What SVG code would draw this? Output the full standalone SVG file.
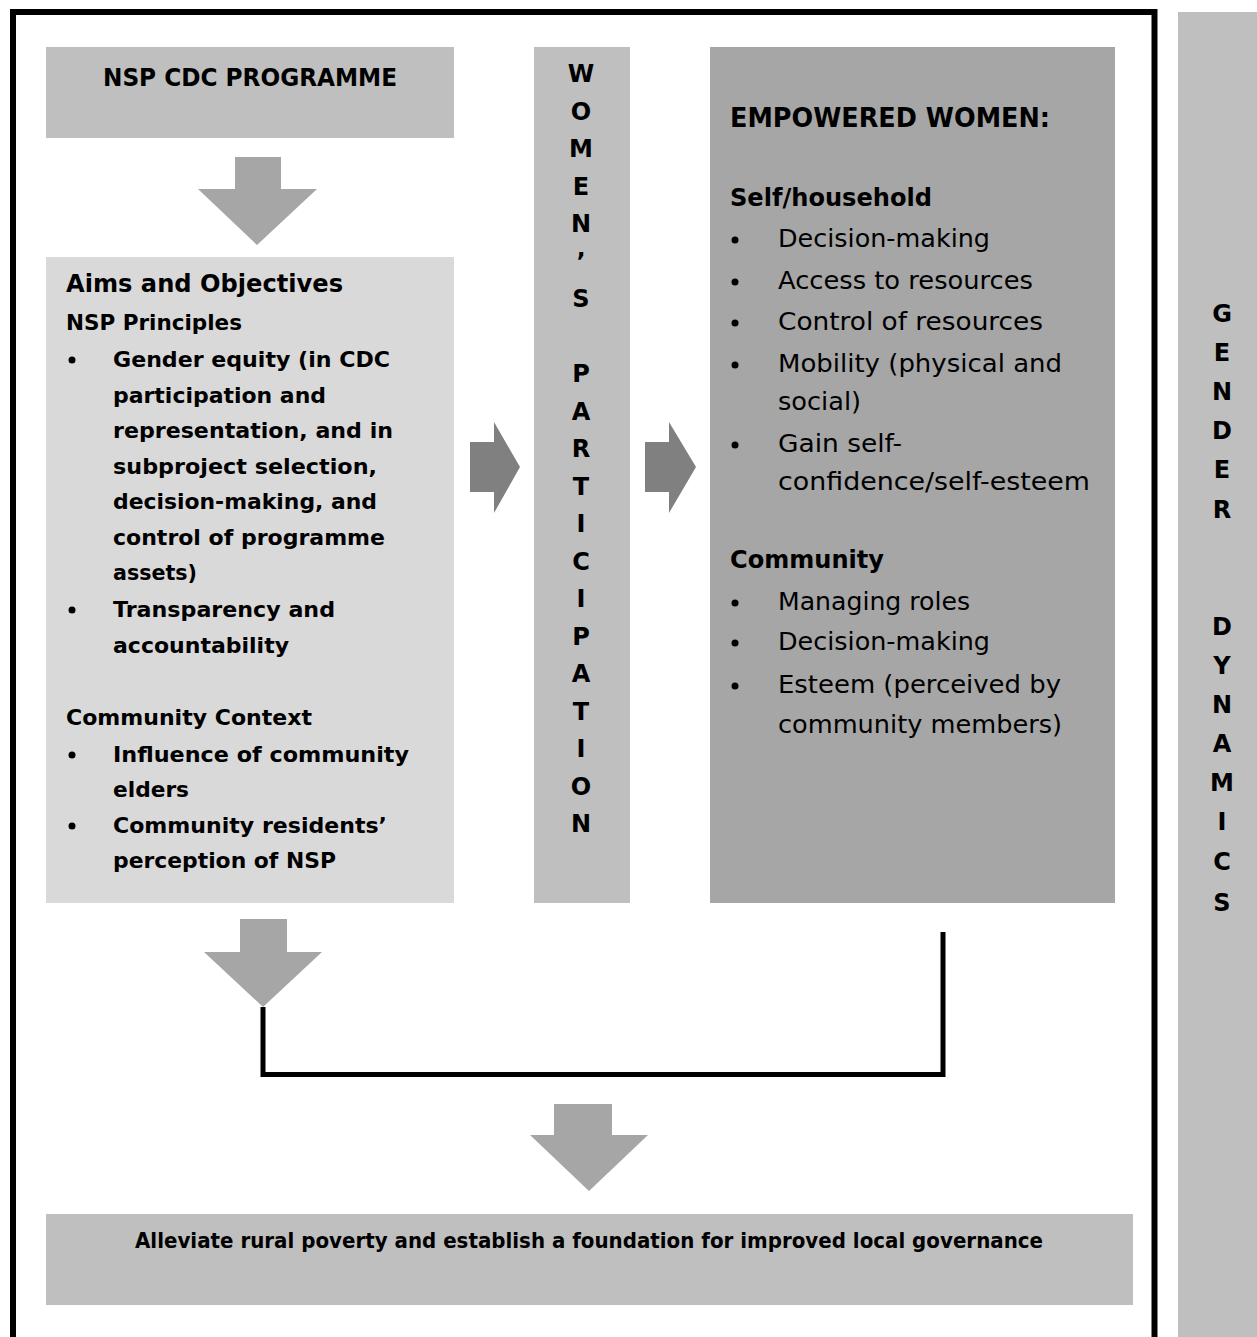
<svg xmlns="http://www.w3.org/2000/svg" width="1257" height="1337" viewBox="0 0 1257 1337">
<style>
.b{font-family:"DejaVu Sans","Liberation Sans",sans-serif;font-weight:bold;fill:#000}
.r{font-family:"DejaVu Sans","Liberation Sans",sans-serif;font-weight:normal;fill:#000}
.lb{font-size:22px}
.rr{font-size:25px}
.v{font-size:24px;text-anchor:middle}
.darr{fill:#a6a6a6}
.rarr{fill:#808080}
</style>
<rect x="0" y="0" width="1257" height="1337" fill="#fff"/>
<rect id="frame" x="13" y="12" width="1141.5" height="1340" fill="none" stroke="#000" stroke-width="6"/>

<g id="gender-dynamics">
<rect x="1178" y="12" width="90" height="1340" fill="#bfbfbf"/>
<g class="b v">
<text x="1222" y="322">G</text><text x="1222" y="361">E</text><text x="1222" y="400">N</text><text x="1222" y="439">D</text><text x="1222" y="478">E</text><text x="1222" y="518">R</text>
<text x="1222" y="635">D</text><text x="1222" y="674">Y</text><text x="1222" y="713">N</text><text x="1222" y="752">A</text><text x="1222" y="791">M</text><text x="1222" y="830">I</text><text x="1222" y="870">C</text><text x="1222" y="911">S</text>
</g>
</g>

<g id="nsp-cdc-programme">
<rect x="46" y="47" width="408" height="91" fill="#bfbfbf"/>
<text class="b" x="103" y="86" font-size="25" textLength="294" lengthAdjust="spacingAndGlyphs">NSP CDC PROGRAMME</text>
</g>

<g id="aims-objectives">
<rect x="46" y="257" width="408" height="646" fill="#d9d9d9"/>
<text class="b" x="66" y="292" font-size="25" textLength="277" lengthAdjust="spacingAndGlyphs">Aims and Objectives</text>
<text class="b lb" x="66" y="330" textLength="176" lengthAdjust="spacingAndGlyphs">NSP Principles</text>
<g fill="#000"><circle cx="72" cy="360" r="3.5"/><circle cx="72" cy="610" r="3.5"/><circle cx="72" cy="755" r="3.5"/><circle cx="72" cy="826" r="3.5"/></g>
<text class="b lb" x="113" y="367" textLength="277" lengthAdjust="spacingAndGlyphs">Gender equity (in CDC</text>
<text class="b lb" x="113" y="402.5" textLength="213" lengthAdjust="spacingAndGlyphs">participation and</text>
<text class="b lb" x="113" y="438" textLength="280" lengthAdjust="spacingAndGlyphs">representation, and in</text>
<text class="b lb" x="113" y="473.5" textLength="264" lengthAdjust="spacingAndGlyphs">subproject selection,</text>
<text class="b lb" x="113" y="509" textLength="264" lengthAdjust="spacingAndGlyphs">decision-making, and</text>
<text class="b lb" x="113" y="544.5" textLength="272" lengthAdjust="spacingAndGlyphs">control of programme</text>
<text class="b lb" x="113" y="580" textLength="84" lengthAdjust="spacingAndGlyphs">assets)</text>
<text class="b lb" x="113" y="617" textLength="222" lengthAdjust="spacingAndGlyphs">Transparency and</text>
<text class="b lb" x="113" y="653" textLength="176" lengthAdjust="spacingAndGlyphs">accountability</text>
<text class="b lb" x="66" y="725" textLength="246" lengthAdjust="spacingAndGlyphs">Community Context</text>
<text class="b lb" x="113" y="762" textLength="296" lengthAdjust="spacingAndGlyphs">Influence of community</text>
<text class="b lb" x="113" y="797" textLength="76" lengthAdjust="spacingAndGlyphs">elders</text>
<text class="b lb" x="113" y="833" textLength="274" lengthAdjust="spacingAndGlyphs">Community residents’</text>
<text class="b lb" x="113" y="868" textLength="223" lengthAdjust="spacingAndGlyphs">perception of NSP</text>
</g>

<g id="womens-participation">
<rect x="534" y="47" width="96" height="856" fill="#bfbfbf"/>
<g class="b v">
<text x="581" y="82">W</text><text x="581" y="119.5">O</text><text x="581" y="157">M</text><text x="581" y="194.5">E</text><text x="581" y="232">N</text><text x="581" y="269.5">’</text><text x="581" y="307">S</text>
<text x="581" y="382">P</text><text x="581" y="419.5">A</text><text x="581" y="457">R</text><text x="581" y="494.5">T</text><text x="581" y="532">I</text><text x="581" y="569.5">C</text><text x="581" y="607">I</text><text x="581" y="644.5">P</text><text x="581" y="682">A</text><text x="581" y="719.5">T</text><text x="581" y="757">I</text><text x="581" y="794.5">O</text><text x="581" y="832">N</text>
</g>
</g>

<g id="empowered-women">
<rect x="710" y="47" width="405" height="856" fill="#a6a6a6"/>
<text class="b" x="730" y="127" font-size="27" textLength="320" lengthAdjust="spacingAndGlyphs">EMPOWERED WOMEN:</text>
<text class="b" x="730" y="206" font-size="25" textLength="202" lengthAdjust="spacingAndGlyphs">Self/household</text>
<g fill="#000"><circle cx="735" cy="240" r="3.5"/><circle cx="735" cy="282" r="3.5"/><circle cx="735" cy="323" r="3.5"/><circle cx="735" cy="365" r="3.5"/><circle cx="735" cy="445" r="3.5"/><circle cx="735" cy="603" r="3.5"/><circle cx="735" cy="643" r="3.5"/><circle cx="735" cy="686" r="3.5"/></g>
<text class="r rr" x="778" y="247" textLength="212" lengthAdjust="spacingAndGlyphs">Decision-making</text>
<text class="r rr" x="778" y="289" textLength="255" lengthAdjust="spacingAndGlyphs">Access to resources</text>
<text class="r rr" x="778" y="330" textLength="265" lengthAdjust="spacingAndGlyphs">Control of resources</text>
<text class="r rr" x="778" y="372" textLength="284" lengthAdjust="spacingAndGlyphs">Mobility (physical and</text>
<text class="r rr" x="778" y="410" textLength="83" lengthAdjust="spacingAndGlyphs">social)</text>
<text class="r rr" x="778" y="452" textLength="124" lengthAdjust="spacingAndGlyphs">Gain self-</text>
<text class="r rr" x="778" y="490" textLength="312" lengthAdjust="spacingAndGlyphs">confidence/self-esteem</text>
<text class="b" x="730" y="568" font-size="25" textLength="154" lengthAdjust="spacingAndGlyphs">Community</text>
<text class="r rr" x="778" y="610" textLength="192" lengthAdjust="spacingAndGlyphs">Managing roles</text>
<text class="r rr" x="778" y="650" textLength="212" lengthAdjust="spacingAndGlyphs">Decision-making</text>
<text class="r rr" x="778" y="693" textLength="283" lengthAdjust="spacingAndGlyphs">Esteem (perceived by</text>
<text class="r rr" x="778" y="733" textLength="284" lengthAdjust="spacingAndGlyphs">community members)</text>
</g>

<g id="outcome">
<rect x="46" y="1214" width="1087" height="91" fill="#bfbfbf"/>
<text class="b" x="135" y="1248" font-size="21" textLength="908" lengthAdjust="spacingAndGlyphs">Alleviate rural poverty and establish a foundation for improved local governance</text>
</g>

<g id="connectors">
<polygon class="darr" points="235,157 281,157 281,189 317,189 257,245 198,189 235,189"/>
<polygon class="rarr" points="470,442 494,442 494,422 520,467 494,513 494,492 470,492"/>
<polygon class="rarr" points="645,442 669,442 669,422 696,467 669,513 669,492 645,492"/>
<polygon class="darr" points="240,919 287,919 287,952 322,952 263,1007 204,952 240,952"/>
<polygon class="darr" points="554,1104 612,1104 612,1135 648,1135 589,1191 530,1135 554,1135"/>
<path d="M263,1007 V1074.5 H943 V932" fill="none" stroke="#000" stroke-width="5" stroke-linejoin="miter"/>
</g>
</svg>
